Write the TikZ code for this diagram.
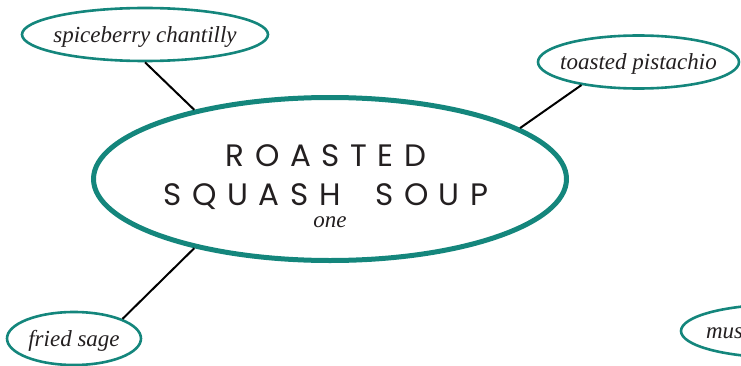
\documentclass[tikz,border=0pt]{standalone}
\usepackage{fontspec}
\usepackage{tikz}
\usetikzlibrary{shapes.geometric}
\newfontfamily\titlefont[LetterSpace=34]{Poppins}
\newfontfamily\garnishfont{Liberation Serif}
\definecolor{soupteal}{RGB}{20,134,124}
\definecolor{inkdark}{RGB}{35,31,32}
\tikzset{
  dish/.style={ellipse, draw=soupteal, line width=5pt, inner sep=0pt,
    minimum width=473pt, minimum height=163pt, align=center, text=inkdark,
    font=\titlefont\fontsize{31}{39}\selectfont},
  garnish/.style={ellipse, draw=soupteal, line width=2.6pt,
    inner xsep=-14pt, inner ysep=0pt, minimum height=53pt,
    text height=15pt, text depth=0pt, text=inkdark,
    font=\garnishfont\fontsize{23}{27}\selectfont\itshape},
  link/.style={line width=2pt, color=black}
}

\begin{document}
\begin{tikzpicture}[x=1pt, y=1pt]
  \clip (0,0) rectangle (741,365);

  % the dish in the middle
  \node[dish] (soup) at (330,186)
    {\rule{0pt}{36pt}ROASTED\kern8pt\\ SQUASH \kern16pt SOUP\kern8pt\\[-17pt]
     {\garnishfont\itshape\fontsize{23}{27}\selectfont one}};

  % garnishes round it
  \node[garnish, minimum width=246pt] (spice) at (145,330.5) {spiceberry chantilly};
  \node[garnish, minimum width=201pt] (pistachio) at (638.5,303) {toasted pistachio};
  \node[garnish, minimum width=134pt] (sage) at (74,26.5) {fried sage};
  \node[garnish, minimum width=200pt, text width=150pt, align=left] (mus) at (781,34) {mus};

  % links
  \draw[link] (spice.south) -- (soup.153);
  \draw[link] (pistachio.202) -- (soup.15);
  \draw[link] (sage.22) -- (soup.207);
\end{tikzpicture}
\end{document}
